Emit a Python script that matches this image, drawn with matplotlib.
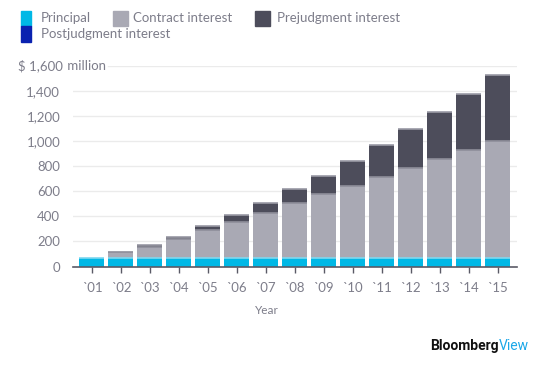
import matplotlib.pyplot as plt
import matplotlib.patches as patches
import numpy as np

plt.rcParams["font.family"] = ["Lato", "DejaVu Sans"]

years = ["`01", "`02", "`03", "`04", "`05", "`06", "`07", "`08",
         "`09", "`10", "`11", "`12", "`13", "`14", "`15"]
principal = [67] * 15
contract = [0, 45, 91, 152, 221, 290, 362, 436, 510, 576, 645, 717, 789, 863, 935]
prejudgment = [0, 0, 10, 13, 32, 51, 80, 112, 146, 199, 255, 311, 374, 446, 523]
postjudgment = [0] * 15

series = [
    ("Principal", principal, "#00b8e6", "#7fd8f0"),
    ("Contract interest", contract, "#a9a9b4", "#8e8e9a"),
    ("Prejudgment interest", prejudgment, "#4d4d5b", "#9a9aa5"),
    ("Postjudgment interest", postjudgment, "#0a22b0", "#0a22b0"),
]

text_grey = "#7d7d8a"

fig = plt.figure(figsize=(5.57, 3.74), dpi=100)
ax = fig.add_axes([0.1305, 0.2874, 0.797, 0.5361])

x = np.arange(len(years))
width = 0.86
bottom = np.zeros(len(years))
for name, vals, color, cap in series:
    vals = np.array(vals, dtype=float)
    ax.bar(x, vals, bottom=bottom, width=width, color=color, linewidth=0, zorder=2)
    top = bottom + vals
    has = vals > 0
    # thin lighter stroke along the top of each segment
    ax.hlines(top[has], x[has] - width / 2, x[has] + width / 2, color=cap,
              linewidth=1.2, zorder=2.5)
    bottom = top

ax.set_xlim(-0.665, len(years) - 1 + 0.655)
ax.set_ylim(0, 1600)

yticks = [0, 200, 400, 600, 800, 1000, 1200, 1400]
for v in yticks[1:]:
    ax.axhline(v, color="#ebebeb", linewidth=1, zorder=1)
ax.axhline(1600, xmin=0.08, color="#ebebeb", linewidth=1, zorder=1)

ax.set_yticks(yticks)
ax.set_yticklabels([f"{v:,}" for v in yticks], color=text_grey, fontsize=9.5)
ax.tick_params(axis="y", length=0, pad=9)
ax.set_xticks(x)
ax.set_xticklabels(years, color=text_grey, fontsize=9.5)
ax.tick_params(axis="x", direction="out", length=4, width=1, color="#5a5a66", pad=7)

for side in ["left", "right", "top"]:
    ax.spines[side].set_visible(False)
ax.spines["bottom"].set_color("#5a5a66")
ax.spines["bottom"].set_linewidth(1.2)
ax.spines["bottom"].set_zorder(3)

fig.text(63 / 557, 1 - 66 / 374, "$ 1,600", ha="right", va="center",
         color=text_grey, fontsize=9.5)
fig.text(64 / 557, 1 - 66 / 374, " million", ha="left", va="center",
         color=text_grey, fontsize=9.5)

fig.text(267 / 557, 1 - 311 / 374, "Year", ha="center", va="center",
         color=text_grey, fontsize=8.5)

# legend
legend_items = [
    (20.7, 11, 10, 14.7, 41, 17.5, 0),
    (112.7, 11, 15, 14.7, 133, 17.5, 1),
    (255, 11, 15, 14.7, 277, 17.5, 2),
    (20.7, 25.7, 10, 16, 41, 33.5, 3),
]
for bx, by, bw, bh, tx, ty, i in legend_items:
    name, _, color, _ = series[i]
    fig.patches.append(patches.Rectangle((bx / 557, 1 - (by + bh) / 374), bw / 557, bh / 374,
                                         transform=fig.transFigure, color=color))
    fig.text(tx / 557, 1 - ty / 374, name, ha="left", va="center",
             color=text_grey, fontsize=9.5)

b = fig.text(430 / 557, 1 - 346 / 374, "Bloomberg", ha="left", va="center",
             color="#111111", fontsize=10, fontweight="bold", family=["Roboto", "DejaVu Sans"])
fig.canvas.draw()
bb = b.get_window_extent()
fig.text(bb.x1 / fig.bbox.width, 1 - 346 / 374, "View", ha="left", va="center",
         color="#1aa7e8", fontsize=10, family=["Roboto", "DejaVu Sans"])

fig.savefig("out.png", dpi=100)
